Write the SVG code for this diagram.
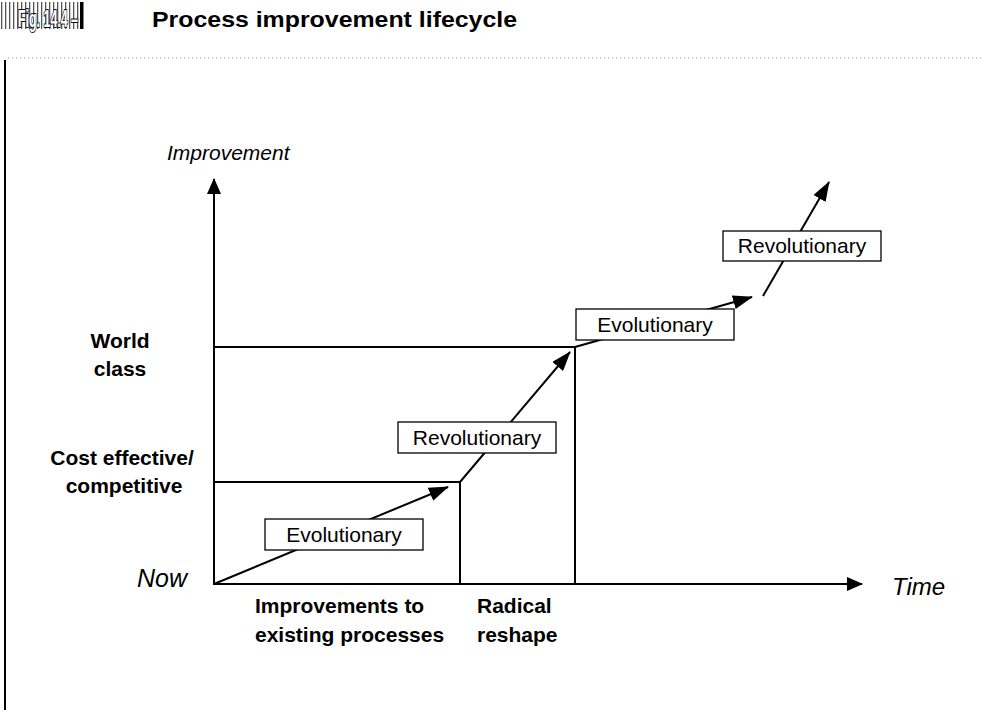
<svg xmlns="http://www.w3.org/2000/svg" width="982" height="710" viewBox="0 0 982 710">
<defs>
<pattern id="stripes" x="0" y="0" width="4" height="4" patternUnits="userSpaceOnUse">
<rect x="0" y="0" width="4" height="4" fill="#ffffff"/>
<rect x="1" y="0" width="1.3" height="4" fill="#555"/>
</pattern>
<marker id="ah" markerUnits="userSpaceOnUse" markerWidth="20" markerHeight="14" refX="19" refY="7" orient="auto">
<path d="M0,0 L20,7 L0,14 Z" fill="#000"/>
</marker>
<marker id="ahs" markerUnits="userSpaceOnUse" markerWidth="16" markerHeight="14" refX="15" refY="7" orient="auto">
<path d="M0,0 L16,7 L0,14 Z" fill="#000"/>
</marker>
</defs>
<style>
.ln{stroke:#000;stroke-width:2;fill:none}
.box{fill:#fff;stroke:#000;stroke-width:1.3}
.bt{font-family:"Liberation Sans",Arial,sans-serif;font-size:21px;text-anchor:middle;fill:#000}
.lb{font-family:"Liberation Sans",Arial,sans-serif;font-size:21px;font-weight:bold;fill:#000}
.it{font-family:"Liberation Sans",Arial,sans-serif;font-style:italic;fill:#000}
</style>
<rect width="982" height="710" fill="#fff"/>
<g id="header">
<rect x="0" y="2" width="80" height="27" fill="url(#stripes)"/>
<text x="18" y="27" font-family="'Liberation Sans',Arial,sans-serif" font-size="23" font-weight="bold" fill="#fff" stroke="#111" stroke-width="2" paint-order="stroke" textLength="60" lengthAdjust="spacingAndGlyphs">Fig. 14.4 –</text>
<rect x="80" y="2" width="3.5" height="27" fill="#000"/>
<text x="152" y="27" font-family="'Liberation Sans',Arial,sans-serif" font-size="22" font-weight="bold" fill="#000" textLength="365" lengthAdjust="spacingAndGlyphs">Process improvement lifecycle</text>
<line x1="8" y1="58" x2="982" y2="58" stroke="#8a8a8a" stroke-width="1" stroke-dasharray="1,3"/>
<line x1="5" y1="60" x2="5" y2="710" stroke="#000" stroke-width="2"/>
</g>
<g id="connectors">
<line class="ln" x1="214" y1="585" x2="214" y2="179" marker-end="url(#ahs)"/>
<line class="ln" x1="213" y1="584" x2="862" y2="584" marker-end="url(#ahs)"/>
<polyline class="ln" points="214,482 460,482 460,584"/>
<polyline class="ln" points="214,347 575,347 575,584"/>
<line class="ln" x1="214" y1="584" x2="448" y2="487" marker-end="url(#ah)"/>
<line class="ln" x1="460" y1="482" x2="570" y2="352" marker-end="url(#ah)"/>
<line class="ln" x1="575" y1="347" x2="752" y2="297" marker-end="url(#ah)"/>
<line class="ln" x1="763" y1="296" x2="829" y2="182" marker-end="url(#ah)"/>
</g>
<g id="evo1">
<rect class="box" x="265" y="519" width="158" height="31"/>
<text class="bt" x="344" y="542">Evolutionary</text>
</g>
<g id="rev1">
<rect class="box" x="398" y="422" width="158" height="31"/>
<text class="bt" x="477" y="445">Revolutionary</text>
</g>
<g id="evo2">
<rect class="box" x="576" y="309" width="158" height="31"/>
<text class="bt" x="655" y="332">Evolutionary</text>
</g>
<g id="rev2">
<rect class="box" x="723" y="231" width="158" height="30"/>
<text class="bt" x="802" y="253">Revolutionary</text>
</g>
<g id="labels">
<text class="it" x="167" y="160" font-size="21">Improvement</text>
<text class="it" x="137" y="587" font-size="25">Now</text>
<text class="it" x="892" y="595" font-size="24">Time</text>
<text class="lb" x="120" y="348" text-anchor="middle">World</text>
<text class="lb" x="120" y="376" text-anchor="middle">class</text>
<text class="lb" x="122" y="465" text-anchor="middle">Cost effective/</text>
<text class="lb" x="124" y="493" text-anchor="middle">competitive</text>
<text class="lb" x="255" y="613">Improvements to</text>
<text class="lb" x="255" y="642">existing processes</text>
<text class="lb" x="477" y="613">Radical</text>
<text class="lb" x="477" y="642">reshape</text>
</g>
</svg>
